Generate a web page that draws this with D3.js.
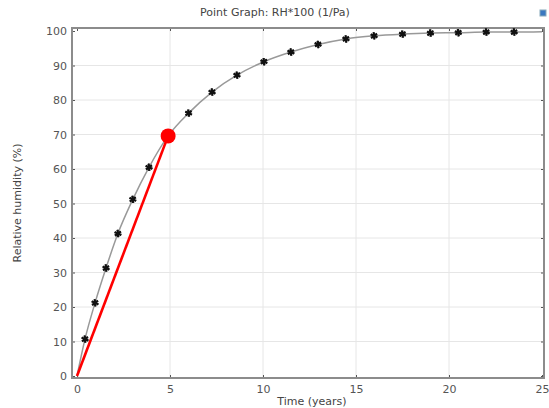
<!DOCTYPE html>
<html>
<head>
<meta charset="utf-8">
<script src="https://cdn.jsdelivr.net/npm/d3@7"></script>
<style>
  body { margin: 0; background: #fff; }
  text { font-family: "DejaVu Sans", sans-serif; fill: #555; }
</style>
</head>
<body>
<div id="chart"></div>
<script>
// curve points (time in years, RH %)
var times = [0, 0.43, 0.97, 1.56, 2.2, 3.0, 3.87, 4.9, 6.0, 7.26, 8.6, 10.05, 11.5, 12.96, 14.46, 15.97, 17.5, 19.0, 20.5, 22.0, 23.5, 25];
var rh = [0, 10.7, 21.2, 31.3, 41.3, 51.2, 60.5, 69.6, 76.2, 82.3, 87.2, 91.1, 93.9, 96.1, 97.7, 98.6, 99.1, 99.4, 99.5, 99.7, 99.7, 99.8];
// marker indices (no marker at start/end, red dot covers 4.9)
var markerIdx = [1, 2, 3, 4, 5, 6, 8, 9, 10, 11, 12, 13, 14, 15, 16, 17, 18, 19, 20];
var highlight = { t: 4.9, v: 69.6 };
var xTicks = [0, 5, 10, 15, 20, 25];
var yTicks = [0, 10, 20, 30, 40, 50, 60, 70, 80, 90, 100];

var width = 549, height = 408;
var frame = { left: 72, top: 28, right: 544, bottom: 378 };

var svg = d3.select("#chart").append("svg")
  .attr("width", width)
  .attr("height", height);

var x = d3.scaleLinear().domain([0, 25]).range([77, 542]);
var y = d3.scaleLinear().domain([0, 100]).range([376, 31]);

// gridlines
svg.append("g").selectAll("line")
  .data(xTicks.slice(1, -1))
  .enter().append("line")
  .attr("x1", d => x(d)).attr("x2", d => x(d))
  .attr("y1", frame.top).attr("y2", frame.bottom)
  .attr("stroke", "#e6e6e6").attr("stroke-width", 1);

svg.append("g").selectAll("line")
  .data(yTicks.slice(1, -1))
  .enter().append("line")
  .attr("x1", frame.left).attr("x2", frame.right)
  .attr("y1", d => y(d)).attr("y2", d => y(d))
  .attr("stroke", "#e6e6e6").attr("stroke-width", 1);

// axes with inward ticks
var xAxis = svg.append("g")
  .attr("transform", "translate(0," + frame.bottom + ")")
  .call(d3.axisBottom(x).tickValues(xTicks).tickSizeInner(-3).tickSizeOuter(0).tickPadding(7));
var yAxis = svg.append("g")
  .attr("transform", "translate(" + frame.left + ",0)")
  .call(d3.axisLeft(y).tickValues(yTicks).tickSizeInner(-3).tickSizeOuter(0).tickPadding(5));
svg.append("g")
  .attr("transform", "translate(0," + frame.top + ")")
  .call(d3.axisTop(x).tickValues(xTicks).tickSizeInner(-3).tickSizeOuter(0).tickFormat(""));
svg.append("g")
  .attr("transform", "translate(" + frame.right + ",0)")
  .call(d3.axisRight(y).tickValues(yTicks).tickSizeInner(-3).tickSizeOuter(0).tickFormat(""));

svg.selectAll(".domain").remove();
svg.selectAll(".tick line").attr("stroke", "#555");
xAxis.selectAll("text").attr("font-size", 11).style("fill", "#555");
yAxis.selectAll("text").attr("font-size", 11).style("fill", "#555");

// frame
svg.append("rect")
  .attr("x", frame.left).attr("y", frame.top)
  .attr("width", frame.right - frame.left)
  .attr("height", frame.bottom - frame.top)
  .attr("fill", "none")
  .attr("stroke", "#8c8c8c")
  .attr("stroke-width", 2);

// the curve
var pts = times.map((t, i) => [t, rh[i]]);
var line = d3.line()
  .x(d => x(d[0]))
  .y(d => y(d[1]))
  .curve(d3.curveMonotoneX);

svg.append("path")
  .datum(pts)
  .attr("d", line)
  .attr("fill", "none")
  .attr("stroke", "#999")
  .attr("stroke-width", 1.5);

// star markers
var star = d3.symbol().type(d3.symbolAsterisk).size(38);
var markers = svg.append("g").selectAll("g")
  .data(markerIdx.map(i => pts[i]))
  .enter().append("g")
  .attr("transform", d => "translate(" + x(d[0]) + "," + y(d[1]) + ")");
markers.append("path")
  .attr("d", star)
  .attr("stroke", "#111")
  .attr("stroke-width", 1.8)
  .attr("fill", "none");
markers.append("path")
  .attr("d", star)
  .attr("transform", "rotate(45)")
  .attr("stroke", "#111")
  .attr("stroke-width", 1.4)
  .attr("fill", "none");
markers.append("circle")
  .attr("r", 1.8)
  .attr("fill", "#111");

// red tangent line and dot
svg.append("line")
  .attr("x1", x(0)).attr("y1", y(0))
  .attr("x2", x(highlight.t)).attr("y2", y(highlight.v))
  .attr("stroke", "#ff0000")
  .attr("stroke-width", 2.6);

svg.append("circle")
  .attr("cx", x(highlight.t))
  .attr("cy", y(highlight.v))
  .attr("r", 7.5)
  .attr("fill", "#ff0000");

// titles
svg.append("text")
  .attr("x", 275).attr("y", 16)
  .attr("text-anchor", "middle")
  .attr("font-size", 11)
  .style("fill", "#444")
  .text("Point Graph: RH*100 (1/Pa)");

svg.append("text")
  .attr("x", 312).attr("y", 405)
  .attr("text-anchor", "middle")
  .attr("font-size", 11)
  .style("fill", "#444")
  .text("Time (years)");

svg.append("text")
  .attr("transform", "translate(21,203) rotate(-90)")
  .attr("text-anchor", "middle")
  .attr("font-size", 11)
  .style("fill", "#444")
  .text("Relative humidity (%)");

// small icon at top right
svg.append("rect")
  .attr("x", 540).attr("y", 10)
  .attr("width", 6).attr("height", 6)
  .attr("fill", "#3a78c0")
  .attr("stroke", "#8ab", "stroke-width", 1);
</script>
</body>
</html>
